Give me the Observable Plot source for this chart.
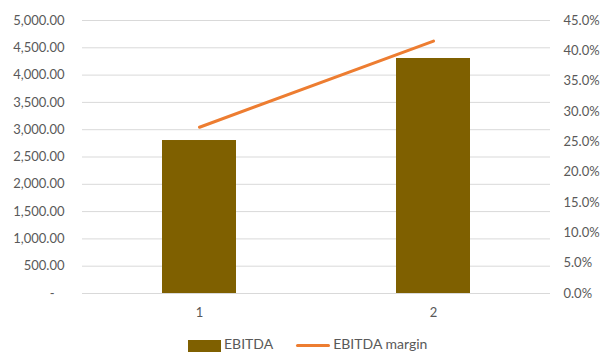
<!DOCTYPE html>
<html>
<head>
<meta charset="utf-8">
<script src="https://cdn.jsdelivr.net/npm/d3@7"></script>
<script src="https://cdn.jsdelivr.net/npm/@observablehq/plot@0.6"></script>
<style>
  body { margin: 0; background: #fff; font-family: Lato, "Open Sans", sans-serif; }
  #chart { width: 603px; height: 353px; overflow: hidden; position: relative; }
  .legend { position: absolute; left: 188px; top: 335px; display: flex; font-size: 14px; line-height: 17px; color: #595959; }
  .item { display: flex; align-items: flex-start; }
  .sw-bar { width: 33px; height: 12px; background: #7f6000; margin: 5px 3px 0 0; }
  .sw-line { width: 34px; height: 3px; background: #ed7d31; border-radius: 2px; margin: 9px 3px 0 0; }
</style>
</head>
<body>
<div id="chart"></div>
<script>
// Periods and series
const periods = ["1", "2"];
const ebitda = [2802, 4304];
const ebitdaMargin = [0.274, 0.416];

// Axis ticks
const leftTicks = d3.range(0, 5001, 500);
const rightTicks = d3.range(0, 0.4501, 0.05);

// The margin series is drawn against the right axis (0–45%), mapped onto the left (0–5,000) domain
const LEFT_MAX = 5000, RIGHT_MAX = 0.45;
const toLeft = v => v / RIGHT_MAX * LEFT_MAX;

const rows = periods.map((p, i) => ({period: p, ebitda: ebitda[i], margin: ebitdaMargin[i]}));

const fmtLeft = d3.format(",.2f");
const grey = "#595959";

const plot = Plot.plot({
  width: 603,
  height: 325,
  marginTop: 20,
  marginBottom: 32,
  marginLeft: 82,
  marginRight: 53,
  style: {fontFamily: "Lato, 'Open Sans', sans-serif", fontSize: "13px", color: grey},
  x: {domain: periods, paddingInner: 0.684, paddingOuter: 0.342, label: null},
  y: {domain: [0, LEFT_MAX], label: null},
  marks: [
    Plot.gridY(leftTicks, {stroke: "#d9d9d9", strokeOpacity: 1, strokeWidth: 1}),
    Plot.axisY(leftTicks, {
      anchor: "left", tickSize: 0, tickPadding: 18, label: null,
      tickFormat: d => d === 0 ? "-\u00a0\u00a0\u00a0" : fmtLeft(d)
    }),
    Plot.axisY(rightTicks.map(toLeft), {
      anchor: "right", tickSize: 0, tickPadding: 13, label: null, textAnchor: "start",
      tickFormat: d => d3.format(".1%")(d / LEFT_MAX * RIGHT_MAX)
    }),
    Plot.axisX({tickSize: 0, tickPadding: 14, label: null}),
    Plot.barY(rows, {x: "period", y: "ebitda", fill: "#7f6000"}),
    Plot.lineY(rows, {x: "period", y: d => toLeft(d.margin), stroke: "#ed7d31", strokeWidth: 3, strokeLinecap: "round"})
  ]
});

const chart = document.getElementById("chart");
chart.appendChild(plot);

const legend = document.createElement("div");
legend.className = "legend";
legend.innerHTML = `
  <div class="item"><div class="sw-bar"></div><span>EBITDA</span></div>
  <div class="item" style="margin-left:23px"><div class="sw-line"></div><span>EBITDA margin</span></div>`;
chart.appendChild(legend);
</script>
</body>
</html>
